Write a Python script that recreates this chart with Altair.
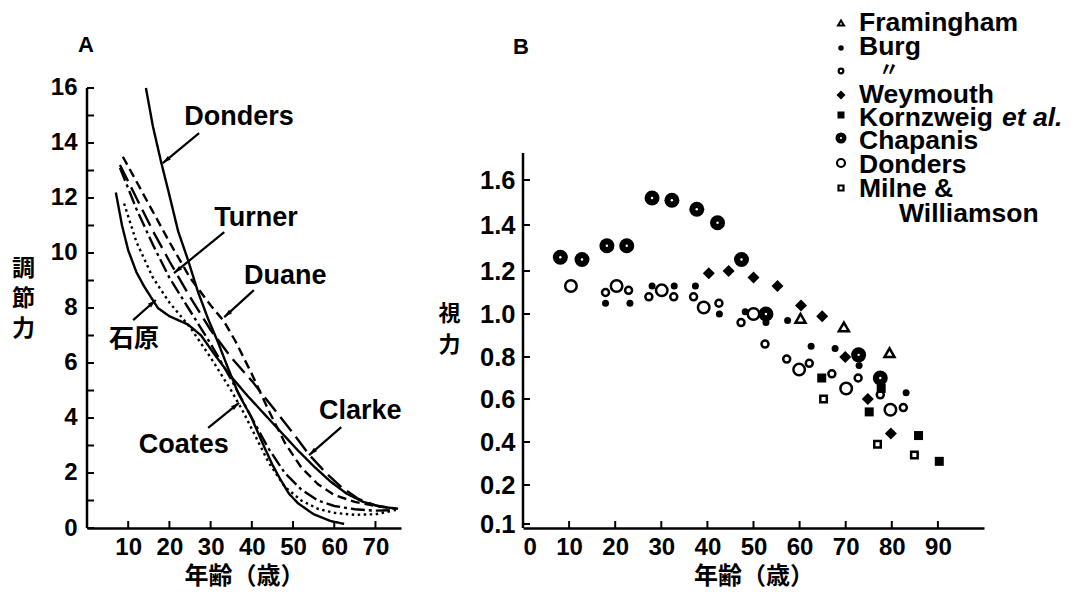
import math
import altair as alt
import pandas as pd

FONT = "Liberation Sans"
JP = "Noto Sans CJK JP"

# ---------------- Panel A : accommodation curves ----------------
curve_names = ["Donders", "石原", "Duane", "Clarke", "Turner", "Coates"]
donders_x = [14.3, 16, 18, 20, 22.1, 24.5, 26.9, 29.4, 31.8, 34, 36.7, 39.8, 43, 45, 47, 49, 51.2, 55, 59.2, 62.4]
donders_y = [16.0, 14.6, 13.3, 12.1, 10.8, 9.75, 8.6, 7.6, 6.75, 5.9, 4.9, 4.05, 2.95, 2.3, 1.75, 1.25, 0.9, 0.5, 0.25, 0.15]
ishihara_x = [7, 8.5, 10, 12, 13.8, 17.2, 20, 24.5, 27.7, 31, 35, 39, 43, 47, 51, 55, 59, 63, 67, 71, 75.5]
ishihara_y = [12.2, 11.0, 10.1, 9.3, 8.8, 8.0, 7.7, 7.4, 7.0, 6.3, 5.5, 4.8, 4.15, 3.5, 2.85, 2.25, 1.7, 1.25, 0.95, 0.78, 0.7]
duane_x = [8.7, 12, 16, 20, 25, 30, 33.3, 36, 40, 44, 48, 52, 56, 60, 65, 70, 75]
duane_y = [13.5, 12.6, 11.5, 10.4, 9.1, 8.1, 7.5, 6.8, 5.6, 4.3, 3.1, 2.2, 1.6, 1.2, 0.95, 0.8, 0.7]
clarke_x = [8, 12, 16, 20, 25, 30, 35, 40, 45, 50, 54, 58, 62, 66, 70, 75]
clarke_y = [13.2, 12.0, 10.8, 9.7, 8.4, 7.2, 6.2, 5.35, 4.4, 3.45, 2.65, 2.0, 1.45, 1.05, 0.82, 0.7]
turner_x = [8, 12, 16, 20, 25, 30, 35, 40, 44, 48, 52, 56, 60, 65, 70, 75]
turner_y = [13.1, 11.6, 10.3, 9.1, 7.9, 6.7, 5.4, 4.0, 2.9, 2.0, 1.4, 1.0, 0.8, 0.68, 0.63, 0.65]
coates_x = [9, 12, 16, 20, 25, 30, 35, 38, 41, 44, 48, 52, 56, 60, 65, 70, 74]
coates_y = [11.8, 10.4, 9.1, 8.2, 7.3, 6.2, 5.0, 4.2, 3.3, 2.4, 1.5, 1.0, 0.7, 0.55, 0.48, 0.5, 0.62]

ann_text = ["Donders", "Turner", "Duane", "Coates", "Clarke"]
ann_x = [36.9, 41.0, 48.1, 23.5, 66.3]
ann_y = [14.95, 11.27, 9.16, 3.02, 4.25]
ann_jp_text = ["石原"]
ann_jp_x = [11.4]
ann_jp_y = [6.87]

arrow_tail_x = [27.2, 33.3, 40.5, 11.2, 29.4, 61.7]
arrow_tail_y = [14.36, 10.76, 8.65, 7.56, 3.64, 3.67]
arrow_head_x = [18.4, 21.1, 33.3, 16.7, 36.9, 53.9]
arrow_head_y = [13.27, 9.27, 7.67, 8.29, 4.55, 2.65]

yA_ticks = list(range(0, 17))
yA_labels = list(range(0, 17, 2))
xA_labels = [10, 20, 30, 40, 50, 60, 70]

# ---------------- Panel B : visual acuity ----------------
fram_x = [60.2, 69.6, 79.5]
fram_y = [0.98, 0.94, 0.82]
burg_x = [17.9, 23.2, 28.0, 32.8, 37.4, 42.6, 48.2, 52.7, 57.4, 62.5, 67.7, 72.9, 83.1]
burg_y = [1.05, 1.05, 1.13, 1.13, 1.13, 1.00, 1.01, 0.96, 0.97, 0.85, 0.84, 0.76, 0.63]
burg2_x = [17.9, 22.9, 27.3, 32.7, 37.0, 42.5, 47.3, 52.5, 57.2, 62.1, 67.0, 72.7, 77.5, 82.5]
burg2_y = [1.10, 1.11, 1.08, 1.08, 1.08, 1.05, 0.96, 0.86, 0.79, 0.77, 0.72, 0.70, 0.62, 0.56]
wey_x = [40.3, 44.6, 50.0, 55.2, 60.3, 64.9, 69.9, 74.8, 79.8]
wey_y = [1.19, 1.20, 1.17, 1.13, 1.04, 0.99, 0.80, 0.60, 0.44]
korn_x = [64.8, 77.7, 75.1, 85.8, 90.3]
korn_y = [0.70, 0.65, 0.54, 0.43, 0.31]
chap_x = [8.1, 12.8, 18.2, 22.5, 28.0, 32.3, 37.7, 42.2, 47.4, 52.7, 72.8, 77.5]
chap_y = [1.26, 1.25, 1.31, 1.31, 1.52, 1.51, 1.47, 1.41, 1.25, 1.00, 0.81, 0.70]
dond_x = [10.4, 20.3, 30.1, 39.2, 50.0, 59.9, 70.1, 79.7]
dond_y = [1.13, 1.13, 1.11, 1.03, 1.00, 0.74, 0.65, 0.55]
milne_x = [65.2, 76.9, 84.9]
milne_y = [0.60, 0.39, 0.34]

yB_labels = [0.1, 0.2, 0.4, 0.6, 0.8, 1.0, 1.2, 1.4, 1.6]
xB_labels = [0, 10, 20, 30, 40, 50, 60, 70, 80, 90]

legend_labels = ["Framingham", "Burg", "〃", "Weymouth", "Kornzweig", "Chapanis", "Donders", "Milne  &"]

# ---------------- geometry ----------------
WA, HA = 314, 520
WB, HB = 461, 520
xA_max = 76.2
yA_max = 18.909
pxA = WA / xA_max
pyA = HA / yA_max

xA_scale = alt.Scale(domain=[0, xA_max], nice=False, zero=False)
yA_scale = alt.Scale(domain=[0, yA_max], nice=False, zero=False)
xB_scale = alt.Scale(domain=[0, 100], nice=False, zero=False)
yB_scale = alt.Scale(
    domain=[0.08974, 0.1, 0.2, 0.4, 0.6, 0.8, 1.0, 1.2, 1.4, 1.6, 2.3644],
    range=[520, 516, 477, 434, 391, 349, 306, 263, 217, 172, 0],
    nice=False, zero=False,
)

# ---------------- Panel A chart ----------------
rows = []
for name, xs, ys in [
    ("Donders", donders_x, donders_y), ("石原", ishihara_x, ishihara_y),
    ("Duane", duane_x, duane_y), ("Clarke", clarke_x, clarke_y),
    ("Turner", turner_x, turner_y), ("Coates", coates_x, coates_y),
]:
    for i, (a, b) in enumerate(zip(xs, ys)):
        rows.append({"series": name, "x": a, "y": b, "o": i})
curves = pd.DataFrame(rows)

dashes = [[1, 0], [1, 0], [9, 5], [18, 7], [14, 4, 3, 4], [2.5, 3.5]]

lines = alt.Chart(curves).mark_line(strokeWidth=2.4, color="black").encode(
    x=alt.X("x:Q", scale=xA_scale, axis=alt.Axis(
        values=xA_labels, ticks=False, grid=False, domain=True, domainColor="black",
        domainWidth=2.5, labelFont=FONT, labelFontSize=24, labelFontWeight="bold",
        labelColor="black", labelPadding=7,
        title="年齢（歳）", titleFont=JP, titleFontSize=24, titleFontWeight="bold",
        titleColor="black", titleY=48, titleBaseline="middle")),
    y=alt.Y("y:Q", scale=yA_scale, axis=alt.Axis(
        values=yA_labels, ticks=False, grid=False, domain=False,
        labelFont=FONT, labelFontSize=24, labelFontWeight="bold", labelColor="black",
        labelPadding=10,
        title=["調", "節", "力"], titleFont=JP, titleFontSize=23, titleFontWeight="bold",
        titleColor="black", titleAngle=0, titleAlign="center", titleBaseline="top",
        titleX=-64, titleY=249, titleLineHeight=30)),
    detail="series:N",
    strokeDash=alt.StrokeDash("series:N", scale=alt.Scale(domain=curve_names, range=dashes), legend=None),
    order="o:Q",
)

yA_axis_line = alt.Chart(pd.DataFrame({"a": [0], "b": [16]})).mark_rule(strokeWidth=2.5, color="black").encode(
    x=alt.value(0), y=alt.Y("a:Q", scale=yA_scale), y2="b:Q")
yA_tick_marks = alt.Chart(pd.DataFrame({"v": yA_ticks})).mark_rule(strokeWidth=2, color="black").encode(
    y=alt.Y("v:Q", scale=yA_scale), x=alt.value(0), x2=alt.value(7))
xA_tick_marks = alt.Chart(pd.DataFrame({"v": xA_labels})).mark_rule(strokeWidth=2, color="black").encode(
    x=alt.X("v:Q", scale=xA_scale), y=alt.value(HA), y2=alt.value(HA - 7))

ann = alt.Chart(pd.DataFrame({"t": ann_text, "x": ann_x, "y": ann_y})).mark_text(
    font=FONT, fontSize=27, fontWeight="bold", color="black", align="center", baseline="middle").encode(
    x=alt.X("x:Q", scale=xA_scale), y=alt.Y("y:Q", scale=yA_scale), text="t:N")
ann_jp = alt.Chart(pd.DataFrame({"t": ann_jp_text, "x": ann_jp_x, "y": ann_jp_y})).mark_text(
    font=JP, fontSize=25, fontWeight="bold", color="black", align="center", baseline="middle").encode(
    x=alt.X("x:Q", scale=xA_scale), y=alt.Y("y:Q", scale=yA_scale), text="t:N")

angles = []
for tx, ty, hx, hy in zip(arrow_tail_x, arrow_tail_y, arrow_head_x, arrow_head_y):
    dx = (hx - tx) * pxA
    dy = -(hy - ty) * pyA
    angles.append(math.degrees(math.atan2(dx, -dy)) % 360)
arrows_df = pd.DataFrame({"tx": arrow_tail_x, "ty": arrow_tail_y, "hx": arrow_head_x,
                          "hy": arrow_head_y, "ang": angles})
shafts = alt.Chart(arrows_df).mark_rule(strokeWidth=2.2, color="black").encode(
    x=alt.X("tx:Q", scale=xA_scale), y=alt.Y("ty:Q", scale=yA_scale),
    x2="hx:Q", y2="hy:Q")
heads = alt.Chart(arrows_df).mark_point(
    shape="M0,0L-1,3.6L1,3.6Z", filled=True, color="black", size=22, opacity=1).encode(
    x=alt.X("hx:Q", scale=xA_scale), y=alt.Y("hy:Q", scale=yA_scale),
    angle=alt.Angle("ang:Q", scale=None))

titleA = alt.Chart(pd.DataFrame({"t": ["A"]})).mark_text(
    font=FONT, fontSize=22, fontWeight="bold", color="black", align="center", baseline="middle").encode(
    x=alt.value(-1), y=alt.value(37), text="t:N")

panelA = alt.layer(lines, yA_axis_line, yA_tick_marks, xA_tick_marks, shafts, heads, ann, ann_jp, titleA).properties(
    width=WA, height=HA)

# ---------------- Panel B chart ----------------
def pts(xs, ys, **kw):
    return alt.Chart(pd.DataFrame({"x": xs, "y": ys})).mark_point(color="black", opacity=1, **kw).encode(
        x=alt.X("x:Q", scale=xB_scale), y=alt.Y("y:Q", scale=yB_scale))

base_axes = alt.Chart(pd.DataFrame({"x": [0], "y": [1.0]})).mark_point(opacity=0).encode(
    x=alt.X("x:Q", scale=xB_scale, axis=alt.Axis(
        values=xB_labels, ticks=False, grid=False, domain=True, domainColor="black",
        domainWidth=2.5, labelFont=FONT, labelFontSize=24, labelFontWeight="bold",
        labelColor="black", labelPadding=7,
        title="年齢（歳）", titleFont=JP, titleFontSize=24, titleFontWeight="bold",
        titleColor="black", titleY=48, titleBaseline="middle")),
    y=alt.Y("y:Q", scale=yB_scale, axis=alt.Axis(
        values=yB_labels, format=".1f", ticks=False, grid=False, domain=False,
        labelFont=FONT, labelFontSize=25.5, labelFontWeight="bold", labelColor="black",
        labelPadding=8,
        title=["視", "力"], titleFont=JP, titleFontSize=22, titleFontWeight="bold",
        titleColor="black", titleAngle=0, titleAlign="center", titleBaseline="top",
        titleX=-74, titleY=295, titleLineHeight=31)),
)

yB_axis_line = alt.Chart(pd.DataFrame({"a": [0.08974], "b": [1.72]})).mark_rule(strokeWidth=2.5, color="black").encode(
    x=alt.value(0), y=alt.Y("a:Q", scale=yB_scale), y2="b:Q")
yB_tick_marks = alt.Chart(pd.DataFrame({"v": yB_labels})).mark_rule(strokeWidth=2, color="black").encode(
    y=alt.Y("v:Q", scale=yB_scale), x=alt.value(0), x2=alt.value(7))
xB_tick_marks = alt.Chart(pd.DataFrame({"v": xB_labels[1:]})).mark_rule(strokeWidth=2, color="black").encode(
    x=alt.X("v:Q", scale=xB_scale), y=alt.value(HB), y2=alt.value(HB - 7))

chap = pts(chap_x, chap_y, shape="circle", filled=True, size=225)
chap_dot = alt.Chart(pd.DataFrame({"x": chap_x, "y": chap_y})).mark_point(
    shape="circle", filled=True, color="white", size=6, opacity=1).encode(
    x=alt.X("x:Q", scale=xB_scale), y=alt.Y("y:Q", scale=yB_scale))
dond = pts(dond_x, dond_y, shape="circle", filled=False, size=132, strokeWidth=2.5)
burg2 = pts(burg2_x, burg2_y, shape="circle", filled=False, size=49, strokeWidth=2.5)
burg = pts(burg_x, burg_y, shape="circle", filled=True, size=49)
wey = pts(wey_x, wey_y, shape="diamond", filled=True, size=144)
fram = pts(fram_x, fram_y, shape="triangle-up", filled=False, size=100, strokeWidth=2.5)
korn = pts(korn_x, korn_y, shape="square", filled=True, size=81)
milne = pts(milne_x, milne_y, shape="square", filled=False, size=42, strokeWidth=2.5)

# legend (drawn by hand, positioned in pixels of panel B)
leg_sym_x = 318
leg_text_x = 336
leg_row_y = [15, 39, 63, 87, 110, 133, 157, 181]
leg_sym_y = [15, 40, 63, 87, 107, 130, 155, 180]
leg_styles = [
    dict(shape="triangle-up", filled=False, size=36, strokeWidth=2),
    dict(shape="circle", filled=True, size=30),
    dict(shape="circle", filled=False, size=22, strokeWidth=2.2),
    dict(shape="diamond", filled=True, size=81),
    dict(shape="square", filled=True, size=49),
    dict(shape="circle", filled=True, size=121),
    dict(shape="circle", filled=False, size=64, strokeWidth=2.2),
    dict(shape="square", filled=False, size=25, strokeWidth=2.2),
]
legend_layers = []
one = pd.DataFrame({"k": [0]})
for i, lab in enumerate(legend_labels):
    st = leg_styles[i]
    legend_layers.append(alt.Chart(one).mark_point(color="black", opacity=1, **st).encode(
        x=alt.value(leg_sym_x), y=alt.value(leg_sym_y[i])))
    if lab == "〃":
        legend_layers.append(alt.Chart(pd.DataFrame({"t": [lab]})).mark_text(
            font=JP, fontSize=20, fontWeight="bold", color="black", align="center", baseline="middle").encode(
            x=alt.value(366), y=alt.value(leg_row_y[i]), text="t:N"))
    else:
        legend_layers.append(alt.Chart(pd.DataFrame({"t": [lab]})).mark_text(
            font=FONT, fontSize=26.5, fontWeight="bold", color="black", align="left", baseline="middle").encode(
            x=alt.value(leg_text_x), y=alt.value(leg_row_y[i]), text="t:N"))
legend_layers.append(alt.Chart(one).mark_point(color="white", filled=True, size=5, opacity=1, shape="circle").encode(
    x=alt.value(leg_sym_x), y=alt.value(leg_sym_y[5])))
legend_layers.append(alt.Chart(pd.DataFrame({"t": ["et al."]})).mark_text(
    font=FONT, fontSize=26.5, fontWeight="bold", fontStyle="italic", color="black", align="left",
    baseline="middle").encode(x=alt.value(479), y=alt.value(leg_row_y[4]), text="t:N"))
legend_layers.append(alt.Chart(pd.DataFrame({"t": ["Williamson"]})).mark_text(
    font=FONT, fontSize=26.5, fontWeight="bold", color="black", align="left", baseline="middle").encode(
    x=alt.value(376), y=alt.value(206), text="t:N"))

titleB = alt.Chart(pd.DataFrame({"t": ["B"]})).mark_text(
    font=FONT, fontSize=22, fontWeight="bold", color="black", align="center", baseline="middle").encode(
    x=alt.value(-2), y=alt.value(39), text="t:N")

panelB = alt.layer(base_axes, yB_axis_line, yB_tick_marks, xB_tick_marks,
                   dond, burg2, burg, wey, fram, korn, milne, chap, chap_dot,
                   titleB, *legend_layers).properties(width=WB, height=HB)

chart = alt.hconcat(panelA, panelB, spacing=122, bounds="flush").properties(
    padding={"left": 3, "top": 0, "right": 0, "bottom": 3},
    background="white",
).configure_view(stroke=None)

chart.save("out.html", embed_options={"renderer": "svg", "actions": False})
